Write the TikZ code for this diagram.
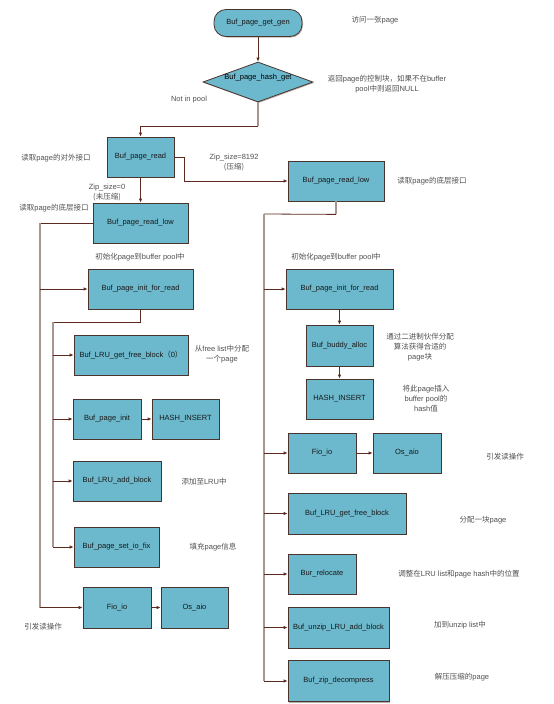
\documentclass[tikz,border=0pt]{standalone}
\usepackage{fontspec}
\setmainfont{Liberation Sans}
\newfontfamily\cjk{Noto Sans CJK SC}
\usetikzlibrary{shapes.geometric,shadows,arrows.meta}
\definecolor{boxfill}{RGB}{108,184,204}
\definecolor{boxline}{RGB}{74,52,46}
\definecolor{darkln}{RGB}{92,42,30}
\definecolor{lightln}{RGB}{168,148,144}
\definecolor{notegray}{RGB}{80,80,80}
\definecolor{shadowc}{RGB}{190,175,170}
\begin{document}
\begin{tikzpicture}[x=1pt,y=-1pt,
  box/.style={draw=boxline, fill=boxfill, line width=0.8pt, inner sep=0pt,
    font=\fontsize{7.5}{9}\selectfont, text=black!90,
    drop shadow={shadow xshift=1pt, shadow yshift=-1pt, fill=shadowc, opacity=1}},
  note/.style={font=\fontsize{7.5}{10}\selectfont, text=notegray, align=center, inner sep=0pt},
  conn/.style={draw=darkln, line width=0.8pt},
  trunk/.style={draw=lightln, line width=1.1pt},
  arr/.style={conn, -{Latex[length=4pt,width=3.5pt]}}]
\useasboundingbox (0,0) rectangle (554,704);
\fill[white] (0,0) rectangle (554,704);

% top
\node[box, rounded corners=12pt, minimum width=88pt, minimum height=27pt] (start) at (258,23) {Buf\_page\_get\_gen};
\node[box, diamond, aspect=2.8, minimum width=110pt, minimum height=40pt, text depth=0pt] (hash) at (258,82) {};
\node[font=\fontsize{7.5}{9}\selectfont, inner sep=0pt] (hashtxt) at (258,78) {Buf\_page\_hash\_get};
\node[note] (n1) at (375,20) {{\cjk 访问一张}page};
\node[note] (n2) at (387,84) {{\cjk 返回}page{\cjk 的控制块，如果不在}buffer\\pool{\cjk 中则返回}NULL};
\node[note] (n3) at (189,100) {Not in pool};

% read
\node[box, minimum width=67pt, minimum height=40pt] (read) at (140.5,157) {Buf\_page\_read};
\node[note] (n4) at (56,158) {{\cjk 读取}page{\cjk 的对外接口}};
\node[note] (n5) at (234,163) {Zip\_size=8192\\{\cjk (压缩)}};
\node[note] (n6) at (107,193) {Zip\_size=0\\{\cjk (未压缩)}};

% left column
\node[box, minimum width=95pt, minimum height=40pt] (llow) at (140.5,223) {Buf\_page\_read\_low};
\node[note] (n7) at (54,208) {{\cjk 读取}page{\cjk 的底层接口}};
\node[note] (n8) at (140,257) {{\cjk 初始化}page{\cjk 到}buffer pool{\cjk 中}};
\node[box, minimum width=105pt, minimum height=40pt] (linit) at (140.5,289) {Buf\_page\_init\_for\_read};
\node[box, minimum width=114pt, minimum height=40pt] (lfree) at (131,355) {Buf\_LRU\_get\_free\_block{\cjk （}0{\cjk ）}};
\node[note] (n9) at (222,354) {{\cjk 从}free list{\cjk 中分配}\\{\cjk 一个}page};
\node[box, minimum width=68pt, minimum height=40pt] (lpinit) at (107,419) {Buf\_page\_init};
\node[box, minimum width=67pt, minimum height=40pt] (lhash) at (185.5,419) {HASH\_INSERT};
\node[box, minimum width=88pt, minimum height=40pt] (ladd) at (117,481) {Buf\_LRU\_add\_block};
\node[note] (n10) at (204,482) {{\cjk 添加至}LRU{\cjk 中}};
\node[box, minimum width=85pt, minimum height=40pt] (lset) at (116.5,547) {Buf\_page\_set\_io\_fix};
\node[note] (n11) at (213,547) {{\cjk 填充}page{\cjk 信息}};
\node[box, minimum width=68pt, minimum height=41pt] (lfio) at (117,607.5) {Fio\_io};
\node[box, minimum width=67pt, minimum height=41pt] (laio) at (194.5,607.5) {Os\_aio};
\node[note] (n12) at (43,627) {{\cjk 引发读操作}};

% right column
\node[box, minimum width=96pt, minimum height=40pt] (rlow) at (336,181) {Buf\_page\_read\_low};
\node[note] (n13) at (432,181) {{\cjk 读取}page{\cjk 的底层接口}};
\node[note] (n14) at (336,257) {{\cjk 初始化}page{\cjk 到}buffer pool{\cjk 中}};
\node[box, minimum width=107pt, minimum height=40pt] (rinit) at (339.5,289) {Buf\_page\_init\_for\_read};
\node[box, minimum width=67pt, minimum height=41pt] (rbuddy) at (339.5,345.5) {Buf\_buddy\_alloc};
\node[note] (n15) at (420,347) {{\cjk 通过二进制伙伴分配}\\{\cjk 算法获得合适的}\\page{\cjk 块}};
\node[box, minimum width=67pt, minimum height=40pt] (rhash) at (339.5,399) {HASH\_INSERT};
\node[note] (n16) at (426,399) {{\cjk 将此}page{\cjk 插入}\\buffer pool{\cjk 的}\\hash{\cjk 值}};
\node[box, minimum width=68pt, minimum height=40pt] (rfio) at (322,453) {Fio\_io};
\node[box, minimum width=68pt, minimum height=40pt] (raio) at (407,453) {Os\_aio};
\node[note] (n17) at (505,457) {{\cjk 引发读操作}};
\node[box, minimum width=118pt, minimum height=41pt] (rfree) at (347,513.5) {Buf\_LRU\_get\_free\_block};
\node[note] (n18) at (483,520) {{\cjk 分配一块}page};
\node[box, minimum width=68pt, minimum height=40pt] (rreloc) at (322,574) {Bur\_relocate};
\node[note] (n19) at (459,574) {{\cjk 调整在}LRU list{\cjk 和}page hash{\cjk 中的位置}};
\node[box, minimum width=101pt, minimum height=41pt] (runzip) at (338.5,627.5) {Buf\_unzip\_LRU\_add\_block};
\node[note] (n20) at (460,625) {{\cjk 加到}unzip list{\cjk 中}};
\node[box, minimum width=101pt, minimum height=41pt] (rzip) at (338.5,681) {Buf\_zip\_decompress};
\node[note] (n21) at (462,677) {{\cjk 解压压缩的}page};

% coordinates for trunks
\coordinate (LT) at (40,223);
\coordinate (LB) at (40,608);
\coordinate (ST) at (53,322);
\coordinate (SB) at (53,547);
\coordinate (RT) at (264,214);
\coordinate (RB) at (264,681);

% connectors top
\draw[arr] (start.south) -- (hash.north);
\draw[trunk] (hash.south) -- ++(0,24) coordinate (hturn);
\draw[arr] (hturn) -| (read.north);
\draw[arr] (read.east) -- ++(10,0) |- (rlow.west);
\draw[arr] (read.south) -- (llow.north);

% left trunk
\draw[conn] (llow.west) -- (LT);
\draw[trunk] (LT) -- (LB);
\draw[arr] (LT |- linit.west) -- (linit.west);
\draw[arr] (LT |- lfio.west) -- (lfio.west);
\draw[conn] (linit.south) |- (ST);
\draw[trunk] (ST) -- (SB);
\draw[arr] (ST |- lfree.west) -- (lfree.west);
\draw[arr] (ST |- lpinit.west) -- (lpinit.west);
\draw[arr] (ST |- ladd.west) -- (ladd.west);
\draw[arr] (ST |- lset.west) -- (lset.west);
\draw[arr] (lpinit) -- (lhash);
\draw[arr] (lfio) -- (laio);

% right trunk
\draw[trunk] (rlow.south) -- ++(0,13) coordinate (rturn);
\draw[conn] (rturn) -- (RT);
\draw[trunk] (RT) -- (RB);
\draw[arr] (RT |- rinit.west) -- (rinit.west);
\draw[arr] (RT |- rfio.west) -- (rfio.west);
\draw[arr] (RT |- rfree.west) -- (rfree.west);
\draw[arr] (RT |- rreloc.west) -- (rreloc.west);
\draw[arr] (RT |- runzip.west) -- (runzip.west);
\draw[arr] (RT |- rzip.west) -- (rzip.west);
\draw[arr] (rinit) -- (rbuddy);
\draw[arr] (rbuddy) -- (rhash);
\draw[arr] (rfio) -- (raio);
\end{tikzpicture}
\end{document}
